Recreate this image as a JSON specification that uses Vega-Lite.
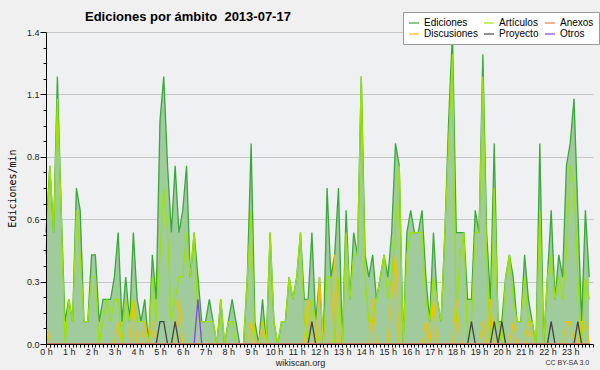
{
"$schema": "https://vega.github.io/schema/vega-lite/v6.json",
"width": 547, "height": 312,
"autosize": "none",
"padding": {"left": 46, "top": 32, "right": 7, "bottom": 26},
"background": "#f0f0f0",
"config": {"view": {"stroke": null, "fill": "#eef0f2"}, "font": "Liberation Sans"},
"title": {"text": "Ediciones por ámbito\u00a0 2013-07-17", "anchor": "start", "frame": "group", "dx": 39, "offset": -16, "dy": 6, "baseline": "alphabetic", "font": "Liberation Sans", "fontSize": 13, "fontWeight": "bold", "color": "#000"},
"data": {"values": [
{"t":0,"Ediciones":0.5,"Artículos":0.4,"Anexos":0,"Discusiones":0.1,"Proyecto":0,"Otros":0},
{"t":1,"Ediciones":0.8,"Artículos":0.8,"Anexos":0,"Discusiones":0,"Proyecto":0,"Otros":0},
{"t":2,"Ediciones":0.5,"Artículos":0.5,"Anexos":0,"Discusiones":0,"Proyecto":0,"Otros":0},
{"t":3,"Ediciones":1.2,"Artículos":1.1,"Anexos":0,"Discusiones":0,"Proyecto":0,"Otros":0},
{"t":4,"Ediciones":0.6,"Artículos":0.6,"Anexos":0,"Discusiones":0,"Proyecto":0,"Otros":0},
{"t":5,"Ediciones":0.1,"Artículos":0,"Anexos":0,"Discusiones":0,"Proyecto":0,"Otros":0},
{"t":6,"Ediciones":0.2,"Artículos":0.2,"Anexos":0,"Discusiones":0,"Proyecto":0,"Otros":0},
{"t":7,"Ediciones":0.1,"Artículos":0.1,"Anexos":0,"Discusiones":0,"Proyecto":0,"Otros":0},
{"t":8,"Ediciones":0.7,"Artículos":0.6,"Anexos":0,"Discusiones":0,"Proyecto":0,"Otros":0},
{"t":9,"Ediciones":0.6,"Artículos":0.4,"Anexos":0,"Discusiones":0,"Proyecto":0,"Otros":0},
{"t":10,"Ediciones":0.1,"Artículos":0.1,"Anexos":0,"Discusiones":0,"Proyecto":0,"Otros":0},
{"t":11,"Ediciones":0.1,"Artículos":0.1,"Anexos":0,"Discusiones":0,"Proyecto":0,"Otros":0},
{"t":12,"Ediciones":0.4,"Artículos":0.3,"Anexos":0,"Discusiones":0,"Proyecto":0,"Otros":0},
{"t":13,"Ediciones":0.4,"Artículos":0.3,"Anexos":0,"Discusiones":0,"Proyecto":0,"Otros":0},
{"t":14,"Ediciones":0.1,"Artículos":0,"Anexos":0,"Discusiones":0,"Proyecto":0,"Otros":0},
{"t":15,"Ediciones":0.2,"Artículos":0.1,"Anexos":0,"Discusiones":0,"Proyecto":0,"Otros":0},
{"t":16,"Ediciones":0.2,"Artículos":0.2,"Anexos":0,"Discusiones":0,"Proyecto":0,"Otros":0},
{"t":17,"Ediciones":0.2,"Artículos":0.1,"Anexos":0,"Discusiones":0,"Proyecto":0,"Otros":0},
{"t":18,"Ediciones":0.3,"Artículos":0.2,"Anexos":0,"Discusiones":0,"Proyecto":0,"Otros":0},
{"t":19,"Ediciones":0.5,"Artículos":0.2,"Anexos":0,"Discusiones":0.1,"Proyecto":0,"Otros":0},
{"t":20,"Ediciones":0.1,"Artículos":0,"Anexos":0,"Discusiones":0,"Proyecto":0,"Otros":0},
{"t":21,"Ediciones":0.3,"Artículos":0.2,"Anexos":0,"Discusiones":0,"Proyecto":0,"Otros":0},
{"t":22,"Ediciones":0.1,"Artículos":0.1,"Anexos":0,"Discusiones":0,"Proyecto":0,"Otros":0},
{"t":23,"Ediciones":0.5,"Artículos":0.2,"Anexos":0,"Discusiones":0.2,"Proyecto":0,"Otros":0},
{"t":24,"Ediciones":0.2,"Artículos":0.1,"Anexos":0,"Discusiones":0,"Proyecto":0,"Otros":0},
{"t":25,"Ediciones":0.1,"Artículos":0.1,"Anexos":0,"Discusiones":0,"Proyecto":0,"Otros":0},
{"t":26,"Ediciones":0.2,"Artículos":0.1,"Anexos":0,"Discusiones":0.1,"Proyecto":0,"Otros":0},
{"t":27,"Ediciones":0,"Artículos":0,"Anexos":0,"Discusiones":0,"Proyecto":0,"Otros":0},
{"t":28,"Ediciones":0.4,"Artículos":0.3,"Anexos":0,"Discusiones":0.1,"Proyecto":0,"Otros":0},
{"t":29,"Ediciones":0.2,"Artículos":0.1,"Anexos":0,"Discusiones":0,"Proyecto":0,"Otros":0},
{"t":30,"Ediciones":1.0,"Artículos":0.4,"Anexos":0,"Discusiones":0,"Proyecto":0.1,"Otros":0},
{"t":31,"Ediciones":1.2,"Artículos":0.7,"Anexos":0,"Discusiones":0,"Proyecto":0.1,"Otros":0},
{"t":32,"Ediciones":0.8,"Artículos":0.5,"Anexos":0,"Discusiones":0,"Proyecto":0,"Otros":0},
{"t":33,"Ediciones":0.5,"Artículos":0.1,"Anexos":0,"Discusiones":0,"Proyecto":0,"Otros":0},
{"t":34,"Ediciones":0.8,"Artículos":0.2,"Anexos":0,"Discusiones":0,"Proyecto":0.1,"Otros":0},
{"t":35,"Ediciones":0.5,"Artículos":0.3,"Anexos":0,"Discusiones":0.2,"Proyecto":0,"Otros":0},
{"t":36,"Ediciones":0.6,"Artículos":0.3,"Anexos":0,"Discusiones":0,"Proyecto":0,"Otros":0},
{"t":37,"Ediciones":0.8,"Artículos":0.5,"Anexos":0,"Discusiones":0,"Proyecto":0,"Otros":0},
{"t":38,"Ediciones":0.3,"Artículos":0.3,"Anexos":0,"Discusiones":0,"Proyecto":0,"Otros":0},
{"t":39,"Ediciones":0.5,"Artículos":0.5,"Anexos":0,"Discusiones":0,"Proyecto":0,"Otros":0},
{"t":40,"Ediciones":0.3,"Artículos":0.1,"Anexos":0,"Discusiones":0,"Proyecto":0,"Otros":0.2},
{"t":41,"Ediciones":0.1,"Artículos":0.1,"Anexos":0,"Discusiones":0,"Proyecto":0,"Otros":0},
{"t":42,"Ediciones":0.1,"Artículos":0.1,"Anexos":0,"Discusiones":0,"Proyecto":0,"Otros":0},
{"t":43,"Ediciones":0.2,"Artículos":0.1,"Anexos":0,"Discusiones":0,"Proyecto":0,"Otros":0},
{"t":44,"Ediciones":0.1,"Artículos":0.1,"Anexos":0,"Discusiones":0,"Proyecto":0,"Otros":0},
{"t":45,"Ediciones":0,"Artículos":0,"Anexos":0,"Discusiones":0,"Proyecto":0,"Otros":0},
{"t":46,"Ediciones":0.2,"Artículos":0.2,"Anexos":0,"Discusiones":0,"Proyecto":0,"Otros":0},
{"t":47,"Ediciones":0,"Artículos":0,"Anexos":0,"Discusiones":0,"Proyecto":0,"Otros":0},
{"t":48,"Ediciones":0.1,"Artículos":0.1,"Anexos":0,"Discusiones":0,"Proyecto":0,"Otros":0},
{"t":49,"Ediciones":0.2,"Artículos":0.1,"Anexos":0,"Discusiones":0,"Proyecto":0,"Otros":0},
{"t":50,"Ediciones":0.1,"Artículos":0,"Anexos":0,"Discusiones":0,"Proyecto":0,"Otros":0},
{"t":51,"Ediciones":0,"Artículos":0,"Anexos":0,"Discusiones":0,"Proyecto":0,"Otros":0},
{"t":52,"Ediciones":0,"Artículos":0,"Anexos":0,"Discusiones":0,"Proyecto":0,"Otros":0},
{"t":53,"Ediciones":0.3,"Artículos":0.3,"Anexos":0,"Discusiones":0,"Proyecto":0,"Otros":0},
{"t":54,"Ediciones":0.9,"Artículos":0.6,"Anexos":0,"Discusiones":0.1,"Proyecto":0,"Otros":0},
{"t":55,"Ediciones":0.1,"Artículos":0,"Anexos":0,"Discusiones":0,"Proyecto":0,"Otros":0},
{"t":56,"Ediciones":0,"Artículos":0,"Anexos":0,"Discusiones":0,"Proyecto":0,"Otros":0},
{"t":57,"Ediciones":0.2,"Artículos":0.1,"Anexos":0,"Discusiones":0.1,"Proyecto":0,"Otros":0},
{"t":58,"Ediciones":0,"Artículos":0,"Anexos":0,"Discusiones":0,"Proyecto":0,"Otros":0},
{"t":59,"Ediciones":0.5,"Artículos":0.5,"Anexos":0,"Discusiones":0,"Proyecto":0,"Otros":0},
{"t":60,"Ediciones":0.1,"Artículos":0.1,"Anexos":0,"Discusiones":0,"Proyecto":0,"Otros":0},
{"t":61,"Ediciones":0,"Artículos":0,"Anexos":0,"Discusiones":0,"Proyecto":0,"Otros":0},
{"t":62,"Ediciones":0.1,"Artículos":0.1,"Anexos":0,"Discusiones":0,"Proyecto":0,"Otros":0},
{"t":63,"Ediciones":0.1,"Artículos":0.1,"Anexos":0,"Discusiones":0,"Proyecto":0,"Otros":0},
{"t":64,"Ediciones":0.3,"Artículos":0.3,"Anexos":0,"Discusiones":0,"Proyecto":0,"Otros":0},
{"t":65,"Ediciones":0.2,"Artículos":0.2,"Anexos":0,"Discusiones":0,"Proyecto":0,"Otros":0},
{"t":66,"Ediciones":0.3,"Artículos":0.3,"Anexos":0,"Discusiones":0,"Proyecto":0,"Otros":0},
{"t":67,"Ediciones":0.5,"Artículos":0.5,"Anexos":0,"Discusiones":0,"Proyecto":0,"Otros":0},
{"t":68,"Ediciones":0.2,"Artículos":0.1,"Anexos":0,"Discusiones":0,"Proyecto":0,"Otros":0},
{"t":69,"Ediciones":0.2,"Artículos":0,"Anexos":0,"Discusiones":0.2,"Proyecto":0,"Otros":0},
{"t":70,"Ediciones":0.5,"Artículos":0.2,"Anexos":0,"Discusiones":0,"Proyecto":0.1,"Otros":0},
{"t":71,"Ediciones":0.1,"Artículos":0.1,"Anexos":0,"Discusiones":0,"Proyecto":0,"Otros":0},
{"t":72,"Ediciones":0.3,"Artículos":0,"Anexos":0,"Discusiones":0.3,"Proyecto":0,"Otros":0},
{"t":73,"Ediciones":0,"Artículos":0,"Anexos":0,"Discusiones":0,"Proyecto":0,"Otros":0},
{"t":74,"Ediciones":0.7,"Artículos":0.3,"Anexos":0,"Discusiones":0,"Proyecto":0,"Otros":0},
{"t":75,"Ediciones":0.3,"Artículos":0.3,"Anexos":0,"Discusiones":0,"Proyecto":0,"Otros":0},
{"t":76,"Ediciones":0.4,"Artículos":0,"Anexos":0,"Discusiones":0.4,"Proyecto":0,"Otros":0},
{"t":77,"Ediciones":0.7,"Artículos":0.3,"Anexos":0,"Discusiones":0,"Proyecto":0,"Otros":0},
{"t":78,"Ediciones":0,"Artículos":0,"Anexos":0,"Discusiones":0,"Proyecto":0,"Otros":0},
{"t":79,"Ediciones":0.6,"Artículos":0.5,"Anexos":0,"Discusiones":0,"Proyecto":0,"Otros":0},
{"t":80,"Ediciones":0.2,"Artículos":0.2,"Anexos":0,"Discusiones":0,"Proyecto":0,"Otros":0},
{"t":81,"Ediciones":0.5,"Artículos":0.4,"Anexos":0,"Discusiones":0,"Proyecto":0,"Otros":0},
{"t":82,"Ediciones":0.4,"Artículos":0.4,"Anexos":0,"Discusiones":0,"Proyecto":0,"Otros":0},
{"t":83,"Ediciones":1.2,"Artículos":1.2,"Anexos":0,"Discusiones":0,"Proyecto":0,"Otros":0},
{"t":84,"Ediciones":0.4,"Artículos":0.3,"Anexos":0,"Discusiones":0,"Proyecto":0,"Otros":0},
{"t":85,"Ediciones":0.3,"Artículos":0.1,"Anexos":0,"Discusiones":0,"Proyecto":0,"Otros":0},
{"t":86,"Ediciones":0.4,"Artículos":0.1,"Anexos":0,"Discusiones":0.2,"Proyecto":0,"Otros":0},
{"t":87,"Ediciones":0.2,"Artículos":0.2,"Anexos":0,"Discusiones":0,"Proyecto":0,"Otros":0},
{"t":88,"Ediciones":0.3,"Artículos":0.3,"Anexos":0,"Discusiones":0,"Proyecto":0,"Otros":0},
{"t":89,"Ediciones":0.4,"Artículos":0.4,"Anexos":0,"Discusiones":0,"Proyecto":0,"Otros":0},
{"t":90,"Ediciones":0.3,"Artículos":0.2,"Anexos":0,"Discusiones":0,"Proyecto":0,"Otros":0},
{"t":91,"Ediciones":0.5,"Artículos":0.3,"Anexos":0,"Discusiones":0.2,"Proyecto":0,"Otros":0},
{"t":92,"Ediciones":0.9,"Artículos":0.5,"Anexos":0,"Discusiones":0.4,"Proyecto":0,"Otros":0},
{"t":93,"Ediciones":0.8,"Artículos":0.8,"Anexos":0,"Discusiones":0,"Proyecto":0,"Otros":0},
{"t":94,"Ediciones":0,"Artículos":0,"Anexos":0,"Discusiones":0,"Proyecto":0,"Otros":0},
{"t":95,"Ediciones":0.5,"Artículos":0.4,"Anexos":0,"Discusiones":0,"Proyecto":0,"Otros":0},
{"t":96,"Ediciones":0.6,"Artículos":0.5,"Anexos":0,"Discusiones":0,"Proyecto":0,"Otros":0},
{"t":97,"Ediciones":0.5,"Artículos":0.5,"Anexos":0,"Discusiones":0,"Proyecto":0,"Otros":0},
{"t":98,"Ediciones":0.5,"Artículos":0.5,"Anexos":0,"Discusiones":0,"Proyecto":0,"Otros":0},
{"t":99,"Ediciones":0.6,"Artículos":0.5,"Anexos":0,"Discusiones":0,"Proyecto":0,"Otros":0},
{"t":100,"Ediciones":0.3,"Artículos":0.2,"Anexos":0,"Discusiones":0.1,"Proyecto":0,"Otros":0},
{"t":101,"Ediciones":0.1,"Artículos":0.1,"Anexos":0,"Discusiones":0,"Proyecto":0,"Otros":0},
{"t":102,"Ediciones":0.5,"Artículos":0.3,"Anexos":0,"Discusiones":0.2,"Proyecto":0,"Otros":0},
{"t":103,"Ediciones":0.2,"Artículos":0.2,"Anexos":0,"Discusiones":0,"Proyecto":0,"Otros":0},
{"t":104,"Ediciones":0.1,"Artículos":0.1,"Anexos":0,"Discusiones":0,"Proyecto":0,"Otros":0},
{"t":105,"Ediciones":0.5,"Artículos":0.5,"Anexos":0,"Discusiones":0,"Proyecto":0,"Otros":0},
{"t":106,"Ediciones":1.0,"Artículos":0.9,"Anexos":0,"Discusiones":0,"Proyecto":0,"Otros":0},
{"t":107,"Ediciones":1.4,"Artículos":1.3,"Anexos":0,"Discusiones":0,"Proyecto":0,"Otros":0},
{"t":108,"Ediciones":0.5,"Artículos":0.1,"Anexos":0,"Discusiones":0.2,"Proyecto":0,"Otros":0},
{"t":109,"Ediciones":0.5,"Artículos":0.4,"Anexos":0,"Discusiones":0,"Proyecto":0,"Otros":0},
{"t":110,"Ediciones":0.5,"Artículos":0.5,"Anexos":0,"Discusiones":0,"Proyecto":0,"Otros":0},
{"t":111,"Ediciones":0.2,"Artículos":0,"Anexos":0,"Discusiones":0,"Proyecto":0,"Otros":0},
{"t":112,"Ediciones":0.2,"Artículos":0.1,"Anexos":0,"Discusiones":0,"Proyecto":0.1,"Otros":0},
{"t":113,"Ediciones":0.6,"Artículos":0.5,"Anexos":0,"Discusiones":0,"Proyecto":0,"Otros":0},
{"t":114,"Ediciones":0.5,"Artículos":0.5,"Anexos":0,"Discusiones":0,"Proyecto":0,"Otros":0},
{"t":115,"Ediciones":1.3,"Artículos":1.2,"Anexos":0,"Discusiones":0.1,"Proyecto":0,"Otros":0},
{"t":116,"Ediciones":0.5,"Artículos":0.4,"Anexos":0,"Discusiones":0,"Proyecto":0,"Otros":0},
{"t":117,"Ediciones":0.2,"Artículos":0,"Anexos":0,"Discusiones":0.2,"Proyecto":0,"Otros":0},
{"t":118,"Ediciones":0.9,"Artículos":0.7,"Anexos":0,"Discusiones":0,"Proyecto":0.1,"Otros":0},
{"t":119,"Ediciones":0.1,"Artículos":0.1,"Anexos":0,"Discusiones":0,"Proyecto":0,"Otros":0},
{"t":120,"Ediciones":0.1,"Artículos":0,"Anexos":0,"Discusiones":0,"Proyecto":0.1,"Otros":0},
{"t":121,"Ediciones":0.3,"Artículos":0.3,"Anexos":0,"Discusiones":0,"Proyecto":0,"Otros":0},
{"t":122,"Ediciones":0.4,"Artículos":0.4,"Anexos":0,"Discusiones":0,"Proyecto":0,"Otros":0},
{"t":123,"Ediciones":0.3,"Artículos":0.2,"Anexos":0,"Discusiones":0.1,"Proyecto":0,"Otros":0},
{"t":124,"Ediciones":0.1,"Artículos":0.1,"Anexos":0,"Discusiones":0,"Proyecto":0,"Otros":0},
{"t":125,"Ediciones":0.1,"Artículos":0.1,"Anexos":0,"Discusiones":0,"Proyecto":0,"Otros":0},
{"t":126,"Ediciones":0.4,"Artículos":0.3,"Anexos":0,"Discusiones":0,"Proyecto":0,"Otros":0},
{"t":127,"Ediciones":0.2,"Artículos":0.1,"Anexos":0,"Discusiones":0.1,"Proyecto":0,"Otros":0},
{"t":128,"Ediciones":0.1,"Artículos":0.1,"Anexos":0,"Discusiones":0,"Proyecto":0,"Otros":0},
{"t":129,"Ediciones":0,"Artículos":0,"Anexos":0,"Discusiones":0,"Proyecto":0,"Otros":0},
{"t":130,"Ediciones":0.9,"Artículos":0.6,"Anexos":0,"Discusiones":0,"Proyecto":0,"Otros":0},
{"t":131,"Ediciones":0,"Artículos":0,"Anexos":0,"Discusiones":0,"Proyecto":0,"Otros":0},
{"t":132,"Ediciones":0.3,"Artículos":0.3,"Anexos":0,"Discusiones":0,"Proyecto":0,"Otros":0},
{"t":133,"Ediciones":0.6,"Artículos":0.4,"Anexos":0,"Discusiones":0,"Proyecto":0.1,"Otros":0},
{"t":134,"Ediciones":0.2,"Artículos":0.2,"Anexos":0,"Discusiones":0,"Proyecto":0,"Otros":0},
{"t":135,"Ediciones":0.4,"Artículos":0.3,"Anexos":0,"Discusiones":0,"Proyecto":0,"Otros":0},
{"t":136,"Ediciones":0.3,"Artículos":0.2,"Anexos":0,"Discusiones":0,"Proyecto":0,"Otros":0},
{"t":137,"Ediciones":0.8,"Artículos":0.4,"Anexos":0,"Discusiones":0.1,"Proyecto":0,"Otros":0},
{"t":138,"Ediciones":0.9,"Artículos":0.8,"Anexos":0,"Discusiones":0.1,"Proyecto":0,"Otros":0},
{"t":139,"Ediciones":1.1,"Artículos":0.7,"Anexos":0,"Discusiones":0,"Proyecto":0,"Otros":0},
{"t":140,"Ediciones":0.6,"Artículos":0.3,"Anexos":0,"Discusiones":0,"Proyecto":0.1,"Otros":0},
{"t":141,"Ediciones":0.1,"Artículos":0,"Anexos":0,"Discusiones":0.1,"Proyecto":0,"Otros":0},
{"t":142,"Ediciones":0.6,"Artículos":0.3,"Anexos":0,"Discusiones":0.1,"Proyecto":0,"Otros":0},
{"t":143,"Ediciones":0.3,"Artículos":0.2,"Anexos":0,"Discusiones":0,"Proyecto":0,"Otros":0}
]},
"layer": [
  {"transform": [{"fold": ["Ediciones"], "as": ["serie","valor"]}],
   "mark": {"type": "area", "color": "#9fcb9d", "interpolate": "linear"},
   "encoding": {
     "x": {"field": "t", "type": "quantitative", "scale": {"domain": [0,144], "nice": false, "zero": false},
       "axis": {"values": [0,1,2,3,4,5,6,7,8,9,10,11,12,13,14,15,16,17,18,19,20,21,22,23,24,25,26,27,28,29,30,31,32,33,34,35,36,37,38,39,40,41,42,43,44,45,46,47,48,49,50,51,52,53,54,55,56,57,58,59,60,61,62,63,64,65,66,67,68,69,70,71,72,73,74,75,76,77,78,79,80,81,82,83,84,85,86,87,88,89,90,91,92,93,94,95,96,97,98,99,100,101,102,103,104,105,106,107,108,109,110,111,112,113,114,115,116,117,118,119,120,121,122,123,124,125,126,127,128,129,130,131,132,133,134,135,136,137,138,139,140,141,142,143,144],
         "labelExpr": "datum.value % 6 == 0 && datum.value < 144 ? (datum.value / 6) + ' h' : ''",
         "labelOverlap": false, "labelFlush": false, "labelBound": false,
         "labelFont": "Liberation Sans", "labelFontSize": 9, "labelColor": "#222", "labelPadding": 0, "labelBaseline": "top",
         "tickSize": 3, "tickColor": "#000", "domainColor": "#000", "grid": false, "zindex": 1,
         "title": "wikiscan.org", "titleFont": "Liberation Sans", "titleFontSize": 9, "titleFontWeight": "normal", "titleColor": "#222",
         "titleX": 254, "titleY": 21, "titleAlign": "center", "titleBaseline": "alphabetic"}},
     "y": {"field": "valor", "type": "quantitative", "scale": {"domain": [0,1.4], "nice": false, "zero": true},
       "axis": {"orient": "left", "values": [0,0.28,0.56,0.84,1.12,1.4], "grid": true, "gridColor": "#c8c8c8", "domain": false, "ticks": false, "labels": false, "title": null, "zindex": 0}}}},
  {"transform": [{"fold": ["Ediciones","Artículos","Discusiones","Proyecto","Otros","Anexos"], "as": ["serie","valor"]}],
   "mark": {"type": "line", "strokeWidth": 1.3, "interpolate": "linear"},
   "encoding": {
     "x": {"field": "t", "type": "quantitative",
       "axis": {"values": [0,1,2,3,4,5,6,7,8,9,10,11,12,13,14,15,16,17,18,19,20,21,22,23,24,25,26,27,28,29,30,31,32,33,34,35,36,37,38,39,40,41,42,43,44,45,46,47,48,49,50,51,52,53,54,55,56,57,58,59,60,61,62,63,64,65,66,67,68,69,70,71,72,73,74,75,76,77,78,79,80,81,82,83,84,85,86,87,88,89,90,91,92,93,94,95,96,97,98,99,100,101,102,103,104,105,106,107,108,109,110,111,112,113,114,115,116,117,118,119,120,121,122,123,124,125,126,127,128,129,130,131,132,133,134,135,136,137,138,139,140,141,142,143,144],
         "labelExpr": "datum.value % 6 == 0 && datum.value < 144 ? (datum.value / 6) + ' h' : ''",
         "labelOverlap": false, "labelFlush": false, "labelBound": false,
         "labelFont": "Liberation Sans", "labelFontSize": 9, "labelColor": "#222", "labelPadding": 0, "labelBaseline": "top",
         "tickSize": 3, "tickColor": "#000", "domainColor": "#000", "grid": false, "zindex": 1,
         "title": "wikiscan.org", "titleFont": "Liberation Sans", "titleFontSize": 9, "titleFontWeight": "normal", "titleColor": "#222",
         "titleX": 254, "titleY": 21, "titleAlign": "center", "titleBaseline": "alphabetic"}},
     "y": {"field": "valor", "type": "quantitative",
       "axis": {"orient": "left", "grid": false, "zindex": 1,
         "values": [0,0.07,0.14,0.21,0.28,0.35,0.42,0.49,0.56,0.63,0.7,0.77,0.84,0.91,0.98,1.05,1.12,1.19,1.26,1.33,1.4],
         "labelExpr": "abs(datum.value/0.28 - round(datum.value/0.28)) < 0.001 ? format(datum.value, '.1f') : ''",
         "tickSize": {"condition": {"test": "abs(datum.value/0.28 - round(datum.value/0.28)) < 0.001", "value": 6}, "value": 3},
         "labelOverlap": false, "labelFlush": false, "labelBound": false,
         "labelFont": "Liberation Sans", "labelFontSize": 9, "labelColor": "#222", "labelPadding": 1,
         "tickColor": "#000", "domainColor": "#000",
         "title": "Ediciones/min", "titleFont": "DejaVu Sans Mono", "titleFontSize": 10, "titleFontWeight": "normal", "titleColor": "#000",
         "titleAngle": -90, "titleX": -34, "titleY": 156, "titleAlign": "center", "titleBaseline": "middle"}},
     "color": {"field": "serie", "type": "nominal",
       "scale": {"domain": ["Ediciones","Discusiones","Artículos","Proyecto","Anexos","Otros"], "range": ["#3aa83a","#f2c200","#9be400","#444444","#f07840","#8a3ff0"]},
       "legend": {"title": null, "orient": "none", "legendX": 357, "legendY": -20, "columns": 3,
         "symbolType": "stroke", "symbolSize": 100, "symbolStrokeWidth": 1.2,
         "labelFont": "Liberation Sans", "labelFontSize": 10, "labelColor": "#000", "labelOffset": 4,
         "columnPadding": 3, "rowPadding": 0, "padding": 5, "fillColor": "#ffffff", "strokeColor": "#999999"}}}},
  {"data": {"values": [{"txt": "CC BY-SA 3.0"}]},
   "mark": {"type": "text", "align": "right", "baseline": "alphabetic", "font": "Liberation Sans", "fontSize": 7, "fill": "#333333", "clip": false},
   "encoding": {
     "x": {"datum": 143, "type": "quantitative",
       "axis": {"values": [0,1,2,3,4,5,6,7,8,9,10,11,12,13,14,15,16,17,18,19,20,21,22,23,24,25,26,27,28,29,30,31,32,33,34,35,36,37,38,39,40,41,42,43,44,45,46,47,48,49,50,51,52,53,54,55,56,57,58,59,60,61,62,63,64,65,66,67,68,69,70,71,72,73,74,75,76,77,78,79,80,81,82,83,84,85,86,87,88,89,90,91,92,93,94,95,96,97,98,99,100,101,102,103,104,105,106,107,108,109,110,111,112,113,114,115,116,117,118,119,120,121,122,123,124,125,126,127,128,129,130,131,132,133,134,135,136,137,138,139,140,141,142,143,144],
         "labelExpr": "datum.value % 6 == 0 && datum.value < 144 ? (datum.value / 6) + ' h' : ''",
         "labelOverlap": false, "labelFlush": false, "labelBound": false,
         "labelFont": "Liberation Sans", "labelFontSize": 9, "labelColor": "#222", "labelPadding": 0, "labelBaseline": "top",
         "tickSize": 3, "tickColor": "#000", "domainColor": "#000", "grid": false, "zindex": 1,
         "title": "wikiscan.org", "titleFont": "Liberation Sans", "titleFontSize": 9, "titleFontWeight": "normal", "titleColor": "#222",
         "titleX": 254, "titleY": 21, "titleAlign": "center", "titleBaseline": "alphabetic"}},
     "y": {"datum": -0.094, "type": "quantitative", "axis": null},
     "text": {"field": "txt", "type": "nominal"}}}
],
"resolve": {"axis": {"y": "independent"}}
}
